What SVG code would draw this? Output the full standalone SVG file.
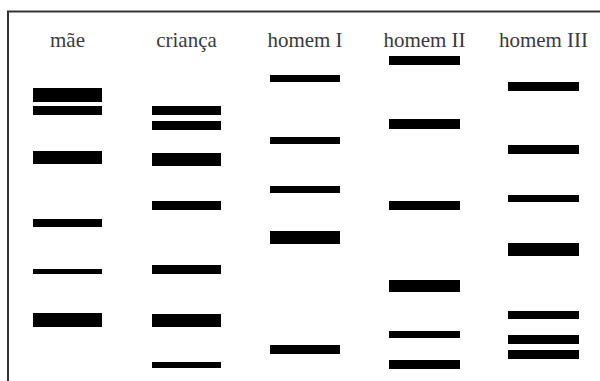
<svg xmlns="http://www.w3.org/2000/svg" width="600" height="381" viewBox="0 0 600 381">
<style>
.lbl{font-family:"Liberation Serif","Times New Roman",serif;font-size:21px;fill:#3a3a3a;text-anchor:middle}
.b{fill:#000}
.frame{fill:none;stroke:#333;stroke-width:2}
</style>
<rect width="600" height="381" fill="#fff"/>
<path class="frame" d="M8 381 V11.5 H600"/>
<g id="mae">
<text class="lbl" x="67.5" y="47">mãe</text>
<rect class="b" x="33" y="88" width="69" height="14"/>
<rect class="b" x="33" y="106" width="69" height="9"/>
<rect class="b" x="33" y="151" width="69" height="13"/>
<rect class="b" x="33" y="219" width="69" height="8"/>
<rect class="b" x="33" y="269" width="69" height="5"/>
<rect class="b" x="33" y="313" width="69" height="14"/>
</g>
<g id="crianca">
<text class="lbl" x="186.5" y="47">criança</text>
<rect class="b" x="152" y="106" width="69" height="9"/>
<rect class="b" x="152" y="121" width="69" height="9"/>
<rect class="b" x="152" y="153" width="69" height="13"/>
<rect class="b" x="152" y="201" width="69" height="9"/>
<rect class="b" x="152" y="265" width="69" height="9"/>
<rect class="b" x="152" y="314" width="69" height="13"/>
<rect class="b" x="152" y="362" width="69" height="6"/>
</g>
<g id="homem1">
<text class="lbl" x="305" y="47">homem I</text>
<rect class="b" x="270" y="75" width="70" height="7"/>
<rect class="b" x="270" y="137" width="70" height="7"/>
<rect class="b" x="270" y="186" width="70" height="7"/>
<rect class="b" x="270" y="231" width="70" height="13"/>
<rect class="b" x="270" y="345" width="70" height="9"/>
</g>
<g id="homem2">
<text class="lbl" x="424.5" y="47">homem II</text>
<rect class="b" x="389" y="56" width="71" height="9"/>
<rect class="b" x="389" y="119" width="71" height="10"/>
<rect class="b" x="389" y="201" width="71" height="9"/>
<rect class="b" x="389" y="280" width="71" height="12"/>
<rect class="b" x="389" y="331" width="71" height="7"/>
<rect class="b" x="389" y="360" width="71" height="9"/>
</g>
<g id="homem3">
<text class="lbl" x="543.5" y="47">homem III</text>
<rect class="b" x="508" y="82" width="71" height="9"/>
<rect class="b" x="508" y="145" width="71" height="9"/>
<rect class="b" x="508" y="195" width="71" height="7"/>
<rect class="b" x="508" y="243" width="71" height="13"/>
<rect class="b" x="508" y="311" width="71" height="8"/>
<rect class="b" x="508" y="335" width="71" height="9"/>
<rect class="b" x="508" y="350" width="71" height="9"/>
</g>
<g id="connectors"/>
</svg>
